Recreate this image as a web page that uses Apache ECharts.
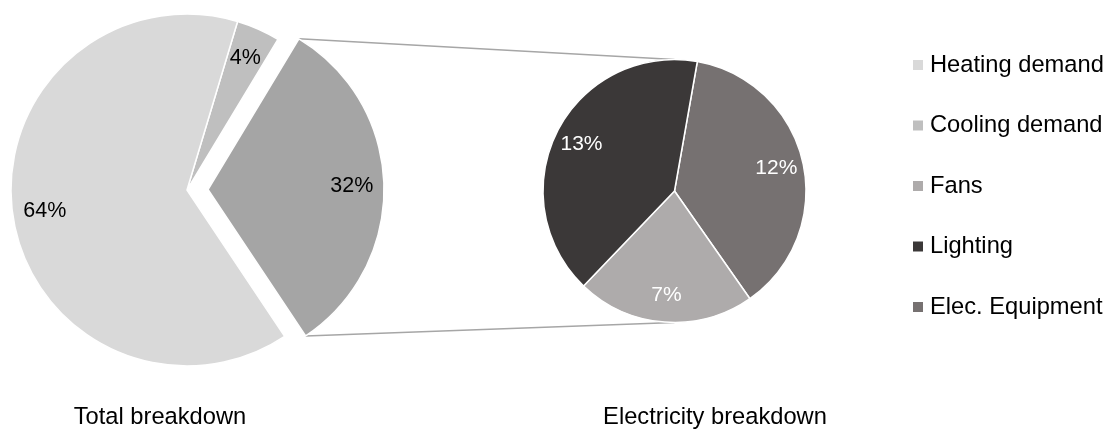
<!DOCTYPE html>
<html>
<head>
<meta charset="utf-8">
<script src="https://cdn.jsdelivr.net/npm/echarts@6/dist/echarts.min.js"></script>
<style>
  html, body { margin: 0; padding: 0; background: #fff; }
  #chart { width: 1113px; height: 430px; }
</style>
</head>
<body>
<div id="chart"></div>
<script>
// Total energy split (percent of total)
const totalNames  = ['Cooling demand', 'Electricity', 'Heating demand'];
const totalValues = [4, 32, 64];
const totalColors = ['#bfbfbf', '#a5a5a5', '#d9d9d9'];

// Electricity split (percent of total, sums to the electricity share)
const elecNames  = ['Elec. Equipment', 'Fans', 'Lighting'];
const elecValues = [12, 7, 13];
const elecColors = ['#767171', '#aeabab', '#3b3838'];

const legendNames = ['Heating demand', 'Cooling demand', 'Fans', 'Lighting', 'Elec. Equipment'];
const titles = ['Total breakdown', 'Electricity breakdown'];

// Layout
const FONT = 'Liberation Sans, Arial, sans-serif';
const leftCenter = [187, 190], leftR = 176, leftStart = 73.3, explode = 21;
const rightCenter = [674.5, 191], rightR = 131.5, rightStart = 80;
const leftLabelFrac = 0.80, rightLabelFrac = 0.77;
const explodedIndex = totalNames.indexOf('Electricity');

function items(names, values, colors, withColor, selIdx) {
  return names.map((n, i) => {
    const it = { name: n, value: values[i] };
    if (withColor) it.itemStyle = { color: colors[i] };
    if (i === selIdx) it.selected = true;
    return it;
  });
}

// Connector end points derived from the pie geometry and the data
const sumTotal = totalValues.reduce((a, b) => a + b, 0);
let before = 0;
for (let i = 0; i < explodedIndex; i++) before += totalValues[i];
const a0 = (90 - leftStart) + before / sumTotal * 360;            // degrees clockwise from 12 o'clock
const a1 = a0 + totalValues[explodedIndex] / sumTotal * 360;
const rad = d => d * Math.PI / 180;
const am = rad((a0 + a1) / 2);
const apex = [leftCenter[0] + explode * Math.sin(am), leftCenter[1] - explode * Math.cos(am)];
const pTop = [apex[0] + leftR * Math.sin(rad(a0)), apex[1] - leftR * Math.cos(rad(a0))];
const pBot = [apex[0] + leftR * Math.sin(rad(a1)), apex[1] - leftR * Math.cos(rad(a1))];
const qTop = [rightCenter[0], rightCenter[1] - rightR];
const qBot = [rightCenter[0], rightCenter[1] + rightR];

const chart = echarts.init(document.getElementById('chart'), null, { renderer: 'canvas' });

const baseSlice = { borderColor: '#ffffff', borderWidth: 1.5 };
const titleStyle = { fontFamily: FONT, fontSize: 23.7, fontWeight: 'normal', color: '#000' };

chart.setOption({
  animation: false,
  backgroundColor: '#ffffff',
  title: [
    { text: titles[0], left: 160, top: 405, textAlign: 'center', padding: 0, textStyle: titleStyle },
    { text: titles[1], left: 715, top: 405, textAlign: 'center', padding: 0, textStyle: titleStyle }
  ],
  legend: {
    orient: 'vertical',
    left: 913,
    top: 53,
    padding: 0,
    data: legendNames,
    icon: 'rect',
    itemWidth: 10,
    itemHeight: 10,
    itemGap: 36.5,
    selectedMode: false,
    itemStyle: { borderWidth: 0 },
    textStyle: { fontFamily: FONT, fontSize: 23.7, color: '#000', padding: [0, 0, 0, 2] }
  },
  graphic: [
    { type: 'line', z: 0, silent: true,
      shape: { x1: pTop[0], y1: pTop[1], x2: qTop[0], y2: qTop[1] },
      style: { stroke: '#a6a6a6', lineWidth: 1.5 } },
    { type: 'line', z: 0, silent: true,
      shape: { x1: pBot[0], y1: pBot[1], x2: qBot[0], y2: qBot[1] },
      style: { stroke: '#a6a6a6', lineWidth: 1.5 } }
  ],
  series: [
    {
      type: 'pie', name: 'total', center: leftCenter, radius: [0, leftR],
      startAngle: leftStart, clockwise: true, selectedMode: 'single', selectedOffset: explode,
      avoidLabelOverlap: false, silent: true,
      itemStyle: baseSlice, label: { show: false }, labelLine: { show: false },
      data: items(totalNames, totalValues, totalColors, true, explodedIndex)
    },
    {
      type: 'pie', name: 'electricity', center: rightCenter, radius: [0, rightR],
      startAngle: rightStart, clockwise: true, avoidLabelOverlap: false, silent: true,
      itemStyle: baseSlice, label: { show: false }, labelLine: { show: false },
      data: items(elecNames, elecValues, elecColors, true, -1)
    },
    // Label carriers: transparent rings sized so 'inside' labels sit near the rim
    {
      type: 'pie', name: 'totalLabels', center: leftCenter, radius: [0, leftR * leftLabelFrac * 2],
      startAngle: leftStart, clockwise: true, selectedMode: 'single', selectedOffset: explode,
      avoidLabelOverlap: false, silent: true, z: 5,
      itemStyle: { color: 'rgba(0,0,0,0)', borderWidth: 0 },
      label: { show: true, position: 'inside', formatter: '{c}%',
               fontFamily: FONT, fontSize: 21.5, color: '#000' },
      labelLine: { show: false },
      data: items(totalNames, totalValues, totalColors, false, explodedIndex)
    },
    {
      type: 'pie', name: 'elecLabels', center: rightCenter, radius: [0, rightR * rightLabelFrac * 2],
      startAngle: rightStart, clockwise: true, avoidLabelOverlap: false, silent: true, z: 5,
      itemStyle: { color: 'rgba(0,0,0,0)', borderWidth: 0 },
      label: { show: true, position: 'inside', formatter: '{c}%',
               fontFamily: FONT, fontSize: 21, color: '#ffffff' },
      labelLine: { show: false },
      data: items(elecNames, elecValues, elecColors, false, -1)
    }
  ]
});
</script>
</body>
</html>
